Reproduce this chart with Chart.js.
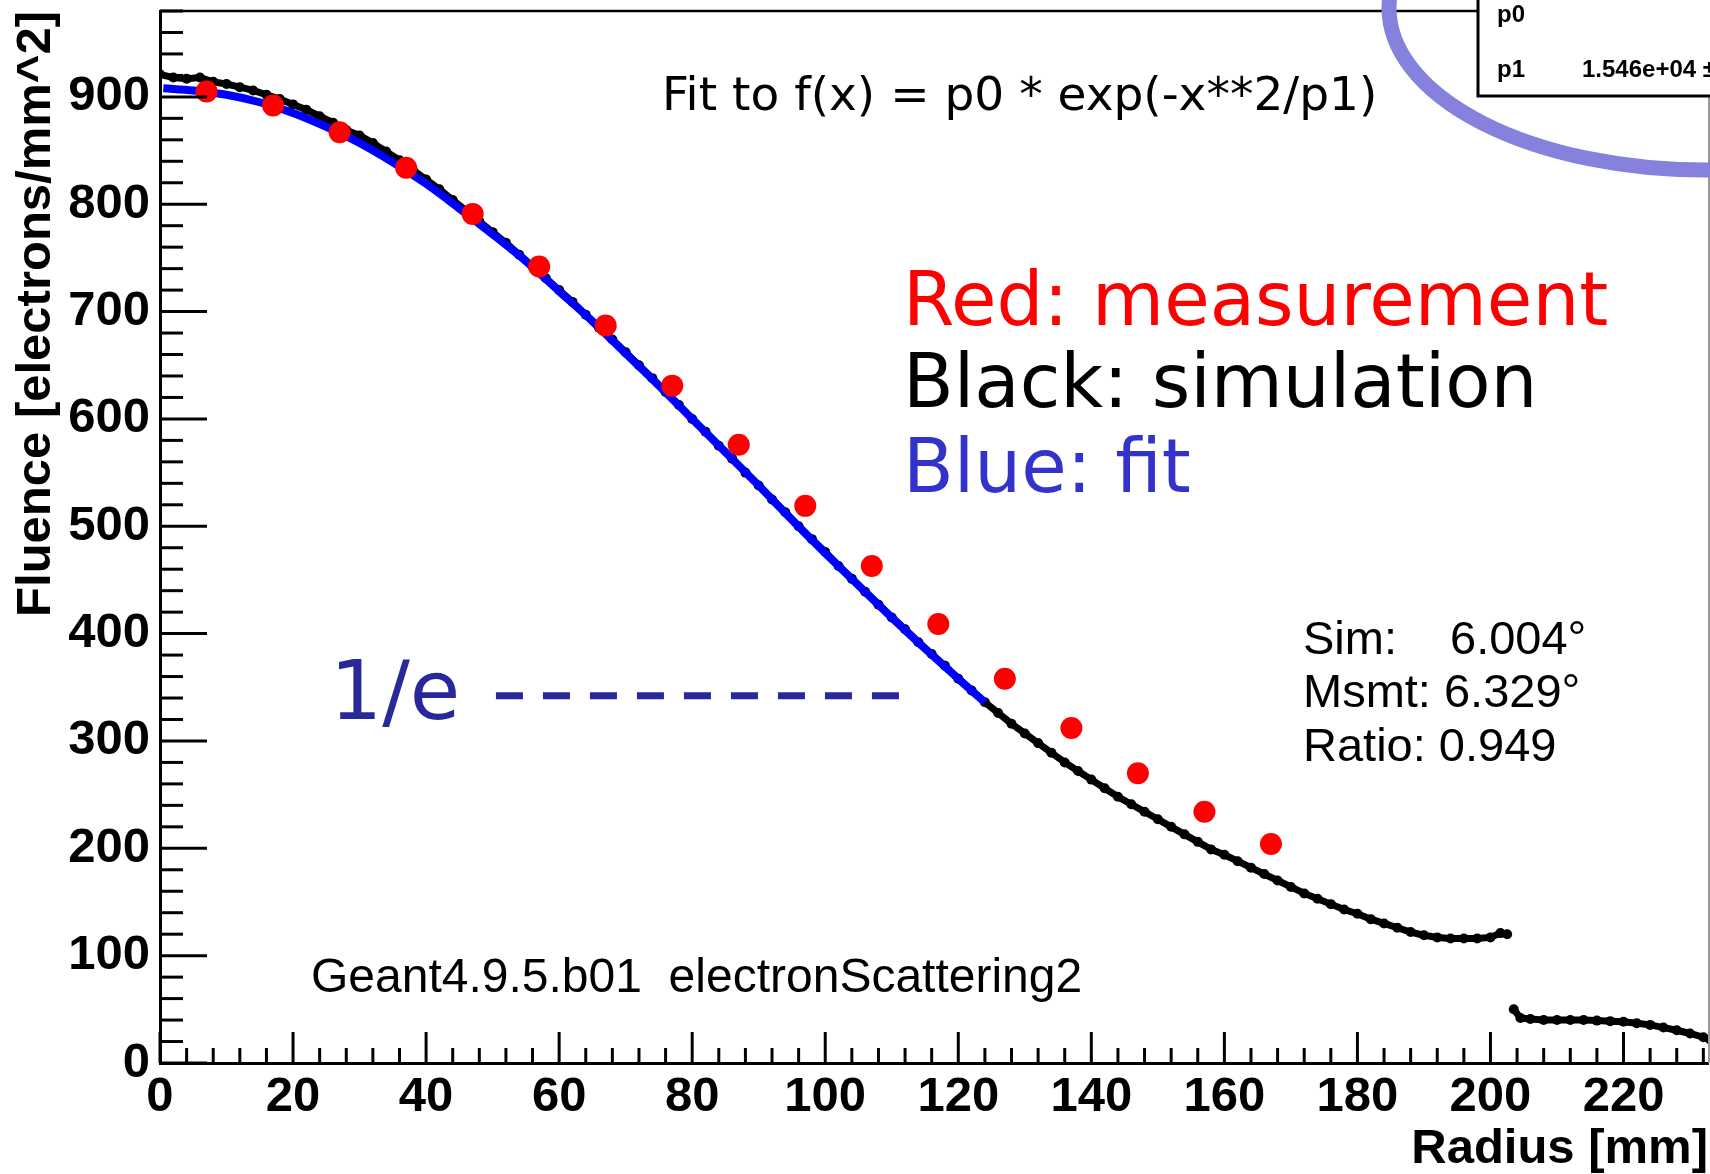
<!DOCTYPE html>
<html>
<head>
<meta charset="utf-8">
<title>Fluence vs Radius</title>
<script src="https://cdn.jsdelivr.net/npm/chart.js"></script>
<style>
  html, body { margin: 0; padding: 0; background: #fff; }
  #chart { display: block; }
</style>
</head>
<body>
<canvas id="chart" width="1710" height="1174"></canvas>
<script>
// ----------------------------------------------------
// Data
// ----------------------------------------------------
const measX = [7, 17, 27, 37, 47, 57, 67, 77, 87, 97, 107, 117, 127, 137, 147, 157, 167];
const measY = [905, 892, 867, 834, 791, 742, 687, 631, 576, 519, 463, 409, 358, 312, 270, 234, 204];

const fitX = [0.5, 5, 10, 15, 20, 25, 30, 35, 40, 45, 50, 55, 60, 65, 70, 75, 80, 85, 90, 95, 100, 105, 110, 115, 120, 124];
const fitY = [908, 906, 902, 895, 885, 872, 857, 839, 819, 796, 772, 747, 719, 691, 661, 631, 600, 569, 538, 506, 475, 445, 415, 386, 358, 336];

const simX = [
  0, 2, 4, 6, 8, 10, 12, 14, 16, 18, 20, 22, 24, 26, 28, 30, 32, 34, 36, 38,
  40, 42, 44, 46, 48, 50, 52, 54, 56, 58, 60, 62, 64, 66, 68, 70, 72, 74, 76, 78,
  80, 82, 84, 86, 88, 90, 92, 94, 96, 98, 100, 102, 104, 106, 108, 110, 112, 114, 116, 118,
  120, 122, 124, 126, 128, 130, 132, 134, 136, 138, 140, 142, 144, 146, 148, 150, 152, 154, 156, 158,
  160, 162, 164, 166, 168, 170, 172, 174, 176, 178, 180, 182, 184, 186, 188, 190, 192, 194, 196, 198,
  200, 201.5, 202.5, 203, 203.5, 204.5, 206, 208, 210, 212, 214, 216, 218, 220, 222, 224, 226, 228, 230, 232, 233
];
const simY = [
  921, 918, 917, 918, 914, 912, 909, 906, 902, 898, 893, 888, 882, 876, 869, 864, 857, 849, 841, 832,
  823, 814, 804, 794, 784, 774, 764, 753, 742, 731, 720, 709, 697, 685, 674, 662, 650, 638, 625, 613,
  600, 588, 575, 563, 550, 538, 525, 513, 500, 488, 476, 463, 451, 439, 427, 415, 404, 392, 381, 370,
  358, 347, 336, 326, 316, 307, 298, 289, 280, 272, 264, 256, 248, 241, 234, 227, 220, 213, 206, 199,
  194, 188, 182, 176, 170, 164, 158, 153, 148, 143, 139, 134, 130, 126, 122, 119, 117, 116, 116, 116,
  117, 121, 120, null, 50, 42, 41, 40, 40, 40, 40, 39.5, 39, 38.5, 37, 35.5, 33, 30.5, 27.5, 24, 22
];

// 1/e guide line
const invEX = [50.5, 111.2];
const invEY = [342, 342];

// axes
const xMin = 0, xMax = 232.7, xMinorStep = 4, xMajorStep = 20;
const yMin = 0, yMax = 980, yMinorStep = 20, yMajorStep = 100;

const toPoints = (xs, ys) => xs.map((x, i) => ({ x: x, y: ys[i] }));

// ----------------------------------------------------
// Fonts
// ----------------------------------------------------
const helv = "'Liberation Sans', Arial, Helvetica, sans-serif";
const dejavu = "'DejaVu Sans', 'Noto Sans', sans-serif";
const axisFont = { family: helv, size: 49, weight: 'bold' };

// keep the plot frame fixed: no extra padding for overhanging labels
function fixBox(s, w, h) {
  if (w) s.width = w;
  if (h) s.height = h;
  s.paddingTop = 0;
  s.paddingBottom = 0;
  s.paddingLeft = 0;
  s.paddingRight = 0;
}

// ----------------------------------------------------
// Overlay plugin: inward ticks, frame, texts, stats box
// ----------------------------------------------------
const rootStyle = {
  id: 'rootStyle',
  afterDraw(chart) {
    const ctx = chart.ctx;
    const area = chart.chartArea;
    const xs = chart.scales.x;
    const ys = chart.scales.y;

    ctx.save();
    ctx.strokeStyle = '#000';
    ctx.lineWidth = 3;
    ctx.lineCap = 'butt';

    // inward tick marks
    xs.ticks.forEach(t => {
      const px = xs.getPixelForValue(t.value);
      const len = t.value % xMajorStep === 0 ? 31 : 15;
      ctx.beginPath();
      ctx.moveTo(px, area.bottom);
      ctx.lineTo(px, area.bottom - len);
      ctx.stroke();
    });
    ys.ticks.forEach(t => {
      const py = ys.getPixelForValue(t.value);
      const len = t.value % yMajorStep === 0 ? 47 : 23;
      ctx.beginPath();
      ctx.moveTo(area.left, py);
      ctx.lineTo(area.left + len, py);
      ctx.stroke();
    });

    // frame: top line up to the stats box, thin grey right edge
    ctx.lineWidth = 2.5;
    ctx.beginPath();
    ctx.moveTo(area.left, area.top);
    ctx.lineTo(1478, area.top);
    ctx.stroke();
    ctx.strokeStyle = '#999';
    ctx.lineWidth = 2;
    ctx.beginPath();
    ctx.moveTo(1709, 96);
    ctx.lineTo(1709, area.bottom);
    ctx.stroke();

    // texts
    ctx.textBaseline = 'alphabetic';
    ctx.textAlign = 'left';
    ctx.fillStyle = '#000';
    ctx.font = "47px " + dejavu;
    ctx.fillText('Fit to f(x) = p0 * exp(-x**2/p1)', 662, 110);

    ctx.font = "74px " + dejavu;
    ctx.fillStyle = '#ff0000';
    ctx.fillText('Red: measurement', 903, 325);
    ctx.fillStyle = '#000';
    ctx.fillText('Black: simulation', 903, 407);
    ctx.fillStyle = '#3333cc';
    ctx.fillText('Blue: fit', 903, 492);

    ctx.font = "82px " + dejavu;
    ctx.fillStyle = '#28289a';
    ctx.fillText('1/e', 330, 719);

    ctx.fillStyle = '#000';
    ctx.font = "47px " + helv;
    ctx.fillText('Sim:', 1303, 654);
    ctx.fillText('6.004\u00b0', 1450, 654);
    ctx.fillText('Msmt: 6.329\u00b0', 1303, 707);
    ctx.fillText('Ratio: 0.949', 1303, 761);
    ctx.font = "48px " + helv;
    ctx.fillText('Geant4.9.5.b01  electronScattering2', 311, 992);

    // stats box (cut off by the top / right edge)
    ctx.fillStyle = '#fff';
    ctx.fillRect(1478, -5, 240, 101);
    ctx.strokeStyle = '#000';
    ctx.lineWidth = 3;
    ctx.strokeRect(1478, -5, 240, 101);
    ctx.fillStyle = '#000';
    ctx.font = "bold 24px " + helv;
    ctx.fillText('p0', 1497, 22);
    ctx.fillText('p1', 1497, 77);
    ctx.fillText('1.546e+04 \u00b1', 1582, 77);

    // hand-drawn highlight ellipse
    ctx.strokeStyle = '#8482dc';
    ctx.lineWidth = 15;
    ctx.beginPath();
    ctx.ellipse(1705, 8, 316, 162, 0, 0, Math.PI * 2);
    ctx.stroke();

    ctx.restore();
  }
};

// ----------------------------------------------------
// Chart
// ----------------------------------------------------
const ctx = document.getElementById('chart').getContext('2d');

new Chart(ctx, {
  type: 'scatter',
  data: {
    datasets: [
      {
        label: 'measurement',
        data: toPoints(measX, measY),
        showLine: false,
        pointRadius: 11,
        pointBackgroundColor: '#ff0000',
        pointBorderWidth: 0,
        pointHoverRadius: 11
      },
      {
        label: 'fit',
        data: toPoints(fitX, fitY),
        showLine: true,
        borderColor: '#0000ff',
        borderWidth: 8,
        pointRadius: 0,
        cubicInterpolationMode: 'monotone'
      },
      {
        label: 'simulation',
        data: toPoints(simX, simY),
        showLine: true,
        spanGaps: false,
        borderColor: '#000',
        borderWidth: 7,
        pointRadius: 5,
        pointBackgroundColor: '#000',
        pointBorderWidth: 0
      },
      {
        label: '1/e',
        data: toPoints(invEX, invEY),
        showLine: true,
        borderColor: '#28289a',
        borderWidth: 7,
        borderDash: [27, 20],
        pointRadius: 0
      }
    ]
  },
  options: {
    responsive: false,
    animation: false,
    devicePixelRatio: 1,
    layout: { autoPadding: false, padding: { top: 11, right: 2, left: 0, bottom: 0 } },
    plugins: {
      legend: { display: false },
      tooltip: { enabled: false }
    },
    scales: {
      x: {
        type: 'linear',
        position: 'bottom',
        min: xMin,
        max: xMax,
        afterFit: s => fixBox(s, 0, 111),
        grid: { display: false, drawTicks: false },
        border: { display: true, color: '#000', width: 3 },
        ticks: {
          stepSize: xMinorStep,
          includeBounds: false,
          autoSkip: false,
          maxRotation: 0,
          padding: 5,
          color: '#000',
          font: axisFont,
          callback: v => (v % xMajorStep === 0 ? String(v) : '')
        },
        title: {
          display: true,
          text: 'Radius [mm]',
          align: 'end',
          color: '#000',
          font: { family: helv, size: 49, weight: 'bold', lineHeight: 1.0 },
          padding: { top: 0, bottom: 0 }
        }
      },
      y: {
        type: 'linear',
        position: 'left',
        min: yMin,
        max: yMax,
        afterFit: s => fixBox(s, 160, 0),
        grid: { display: false, drawTicks: false },
        border: { display: true, color: '#000', width: 3 },
        ticks: {
          stepSize: yMinorStep,
          includeBounds: false,
          autoSkip: false,
          padding: 10,
          color: '#000',
          font: axisFont,
          callback: v => (v % yMajorStep === 0 ? String(v) : '')
        },
        title: {
          display: true,
          text: 'Fluence [electrons/mm^2]',
          align: 'end',
          color: '#000',
          font: axisFont,
          padding: { top: 7, bottom: 0 }
        }
      }
    }
  },
  plugins: [rootStyle]
});
</script>
</body>
</html>
